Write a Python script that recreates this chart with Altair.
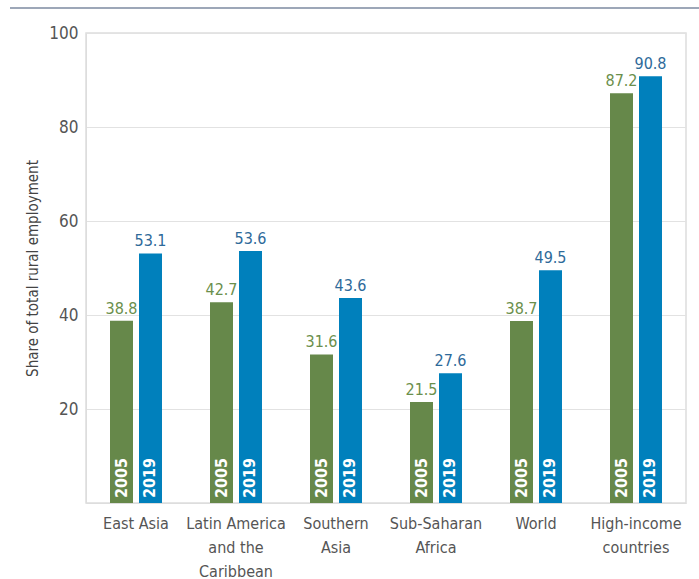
import altair as alt
import pandas as pd

# Regions (line breaks marked with "|") and shares for each survey year
regions = ["East Asia", "Latin America|and the|Caribbean", "Southern|Asia",
           "Sub-Saharan|Africa", "World", "High-income|countries"]
share_2005 = [38.8, 42.7, 31.6, 21.5, 38.7, 87.2]
share_2019 = [53.1, 53.6, 43.6, 27.6, 49.5, 90.8]
years = ["2005", "2019"]
y_ticks = [20, 40, 60, 80, 100]

GREEN = "#66884a"
BLUE = "#0080bc"
GREEN_TXT = "#6b8f4c"
BLUE_TXT = "#2e6a9a"
FONT = "DejaVu Sans Condensed, Liberation Sans, sans-serif"

rows = []
for r, a, b in zip(regions, share_2005, share_2019):
    rows.append({"region": r, "year": years[0], "share": a})
    rows.append({"region": r, "year": years[1], "share": b})
df = pd.DataFrame(rows)

x_enc = alt.X("region:N", sort=regions,
              scale=alt.Scale(paddingInner=0.4, paddingOuter=0.2),
              axis=alt.Axis(title=None, labelExpr="split(datum.label, '|')",
                            labelAngle=0, labelFontSize=16, labelColor="#555555",
                            labelFont=FONT, labelPadding=12, ticks=False,
                            domain=True, domainColor="#dddddd", labelLineHeight=24))
xo_enc = alt.XOffset("year:N", sort=years,
                     scale=alt.Scale(paddingInner=0.207, paddingOuter=0.138))
color_scale = alt.Scale(domain=years, range=[GREEN, BLUE])
txt_scale = alt.Scale(domain=years, range=[GREEN_TXT, BLUE_TXT])

base = alt.Chart(df).encode(x=x_enc, xOffset=xo_enc)

bars = base.mark_bar().encode(
    y=alt.Y("share:Q", scale=alt.Scale(domain=[0, 100]),
            axis=alt.Axis(values=y_ticks, title="Share of total rural employment",
                          titleFont=FONT, titleFontSize=15, titleFontWeight="normal",
                          titleColor="#444444", titlePadding=8,
                          labelFont=FONT, labelFontSize=17, labelColor="#555555",
                          ticks=False, labelPadding=8, grid=True, gridColor="#e2e2e2",
                          domainColor="#dddddd")),
    color=alt.Color("year:N", scale=color_scale, legend=None),
)

values = base.mark_text(baseline="bottom", dy=-4, font=FONT, fontSize=16).encode(
    y="share:Q",
    text=alt.Text("share:Q", format=".1f"),
    color=alt.Color("year:N", scale=txt_scale, legend=None),
)

year_lbl = base.mark_text(angle=270, align="left", baseline="middle", dx=5,
                          font=FONT, fontSize=16, fontWeight="bold",
                          color="white").encode(
    y=alt.datum(0),
    text="year:N",
)

top_rule = alt.Chart(pd.DataFrame({"k": [0]})).mark_rule(
    color="#7d8aa0", strokeWidth=1.5).encode(
    x=alt.value(-76), x2=alt.value(613), y=alt.value(-25))

chart = alt.layer(bars, values, year_lbl, top_rule).resolve_scale(
    color="independent"
).properties(
    width=600, height=470,
    autosize=alt.AutoSizeParams(type="none"),
    padding={"left": 86, "top": 33, "right": 13, "bottom": 76},
).configure_view(stroke="#dddddd", strokeWidth=1.5)

chart.save("out.html", embed_options={"renderer": "svg", "actions": False})
